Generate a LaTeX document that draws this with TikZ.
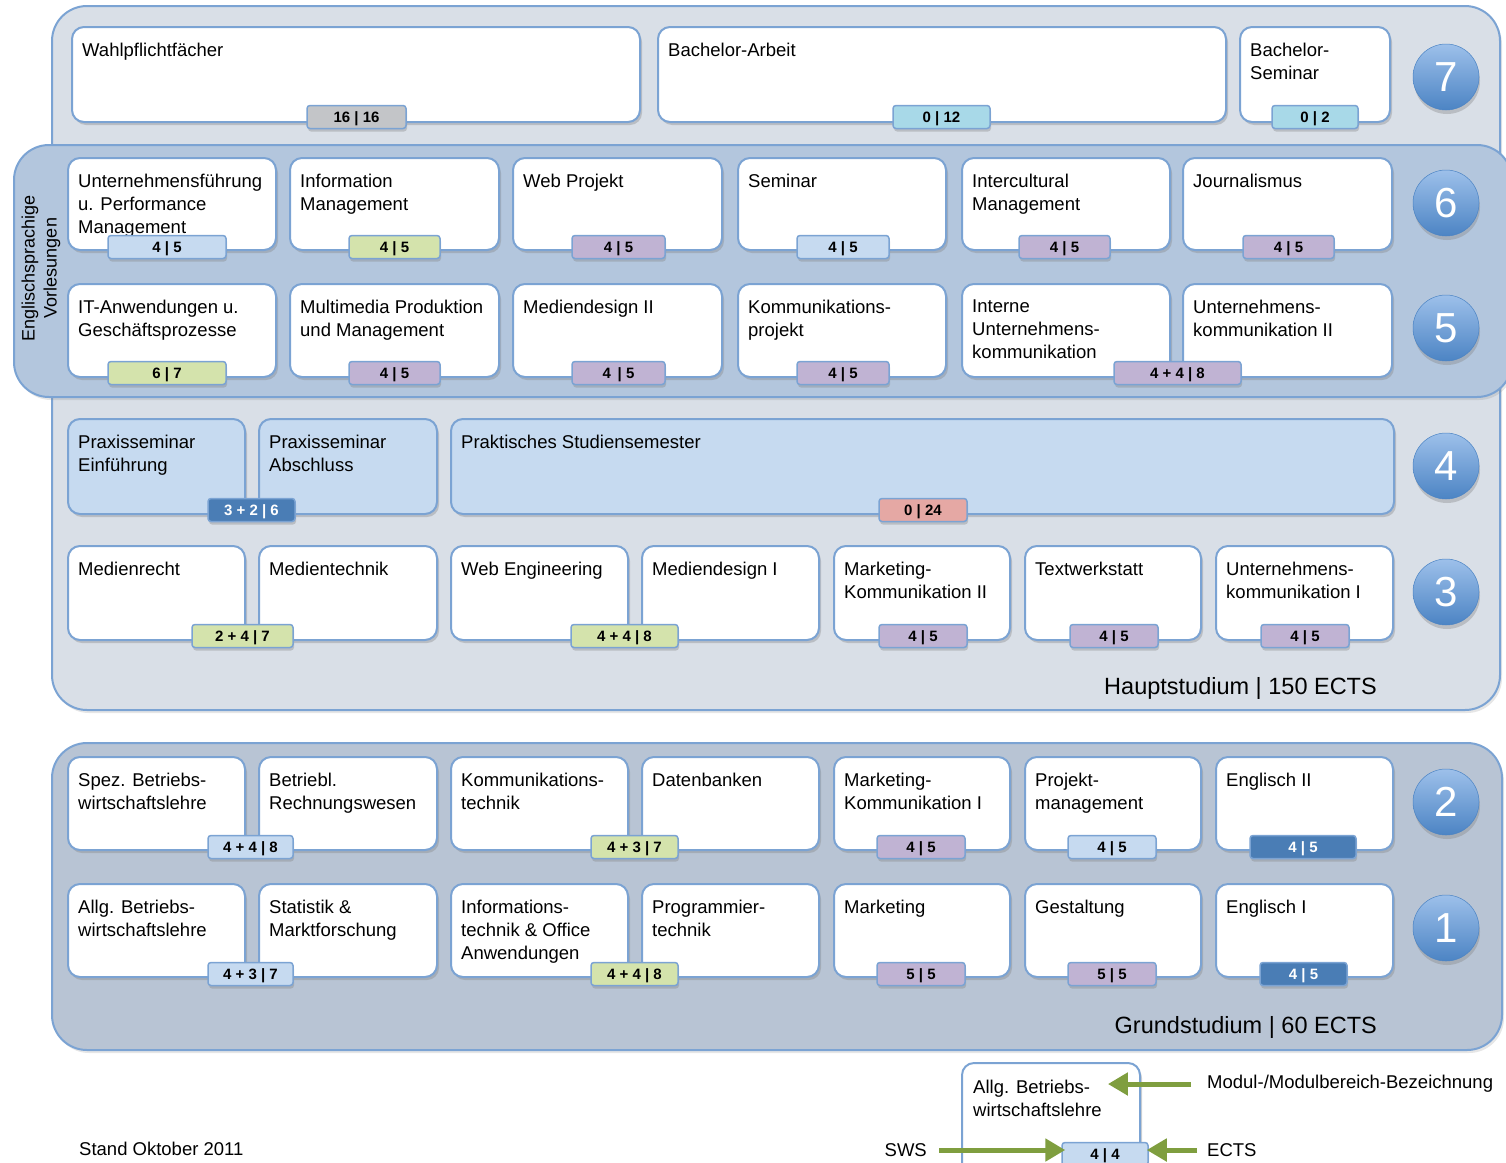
\documentclass[tikz,border=0pt]{standalone}
\usepackage{fontspec}
\setmainfont{Liberation Sans}
\usetikzlibrary{shadows,arrows.meta}

\definecolor{rahmen}{HTML}{7BA3D3}
\definecolor{haupt}{HTML}{D9DFE7}
\definecolor{englisch}{HTML}{B3C6DD}
\definecolor{grund}{HTML}{B8C4D4}
\definecolor{hellblau}{HTML}{C6DAF0}
\definecolor{gruen}{HTML}{D4E3AC}
\definecolor{lila}{HTML}{C0B3D3}
\definecolor{grau}{HTML}{C3C5C8}
\definecolor{tuerkis}{HTML}{A8D9E8}
\definecolor{dunkelblau}{HTML}{4A7DB5}
\definecolor{rosa}{HTML}{E5A8A4}
\definecolor{pfeilgruen}{HTML}{7F9E3F}
\definecolor{kreisoben}{HTML}{9DC0EA}
\definecolor{kreisunten}{HTML}{4C84C4}

\tikzset{
  panel/.style={draw=rahmen, line width=2pt, rounded corners=35pt,
    drop shadow={opacity=0.2, shadow xshift=2pt, shadow yshift=-3pt}},
  modul/.style={draw=rahmen, line width=2pt, fill=white, rounded corners=12pt,
    drop shadow={opacity=0.35, shadow xshift=2pt, shadow yshift=-3pt}},
  titel/.style={anchor=north west, align=left, inner sep=0pt, yshift=-2pt,
    font=\fontsize{18.5}{23}\selectfont},
  badge/.style={draw=rahmen, line width=1.5pt, rounded corners=3pt,
    minimum height=23pt, inner sep=0pt, text depth=0pt,
    font=\bfseries\fontsize{15}{16}\selectfont,
    drop shadow={opacity=0.35, shadow xshift=1pt, shadow yshift=-3pt}},
  semester/.style={circle, minimum size=66pt, inner sep=0pt, top color=kreisoben,
    bottom color=kreisunten, draw=kreisunten, line width=0.5pt, text=white,
    font=\fontsize{42}{42}\selectfont,
    drop shadow={opacity=0.35, shadow xshift=1pt, shadow yshift=-4pt}},
  summe/.style={anchor=east, inner sep=0pt, font=\fontsize{23.5}{26}\selectfont},
  legende/.style={anchor=west, inner sep=0pt, font=\fontsize{18.5}{20}\selectfont},
  hinweis/.style={-{Triangle[width=22pt,length=20pt]}, line width=5pt, draw=pfeilgruen}
}

\begin{document}
\begin{tikzpicture}[x=1pt, y=-1pt]
\useasboundingbox (0,0) rectangle (1506,1162);

% Bereiche
\draw[panel, fill=haupt] (52,6) rectangle (1500,710);
\draw[panel, fill=grund] (52,743) rectangle (1502,1050);
\draw[panel, fill=englisch] (14,145) rectangle (1512,397);
\node[rotate=90, align=center, inner sep=0pt, font=\fontsize{18}{22}\selectfont] (engl) at (41,268) {Englischsprachige\\Vorlesungen};
\node[summe] (haupttext) at (1377,688) {Hauptstudium | 150 ECTS};
\node[summe] (grundtext) at (1377,1027) {Grundstudium | 60 ECTS};

% 7. Semester
\draw[modul] (72,27) rectangle (640,122);
\node[titel] (t71) at (82,41) {Wahlpflichtfächer};
\draw[modul] (658,27) rectangle (1226,122);
\node[titel] (t72) at (668,41) {Bachelor-Arbeit};
\draw[modul] (1240,27) rectangle (1390,122);
\node[titel] (t73) at (1250,41) {Bachelor-\\Seminar};
\node[badge, fill=grau, minimum width=99] (b71) at (356.5,117) {16 | 16};
\node[badge, fill=tuerkis, minimum width=97] (b72) at (941.5,117) {0 | 12};
\node[badge, fill=tuerkis, minimum width=86] (b73) at (1315,117) {0 | 2};
\node[semester] (s7) at (1446,77) {7};

% 6. Semester
\draw[modul] (68,158) rectangle (276,250);
\node[titel] (t61) at (78,172) {Unternehmensführung\\u. Performance\\Management};
\draw[modul] (290,158) rectangle (499,250);
\node[titel] (t62) at (300,172) {Information\\Management};
\draw[modul] (513,158) rectangle (722,250);
\node[titel] (t63) at (523,172) {Web Projekt};
\draw[modul] (738,158) rectangle (946,250);
\node[titel] (t64) at (748,172) {Seminar};
\draw[modul] (962,158) rectangle (1170,250);
\node[titel] (t65) at (972,172) {Intercultural\\Management};
\draw[modul] (1183,158) rectangle (1392,250);
\node[titel] (t66) at (1193,172) {Journalismus};
\node[badge, fill=hellblau, minimum width=118] (b61) at (167,247) {4 | 5};
\node[badge, fill=gruen, minimum width=91] (b62) at (394.5,247) {4 | 5};
\node[badge, fill=lila, minimum width=93] (b63) at (618.5,247) {4 | 5};
\node[badge, fill=hellblau, minimum width=92] (b64) at (843,247) {4 | 5};
\node[badge, fill=lila, minimum width=91] (b65) at (1064.5,247) {4 | 5};
\node[badge, fill=lila, minimum width=91] (b66) at (1288.5,247) {4 | 5};
\node[semester] (s6) at (1446,203) {6};

% 5. Semester
\draw[modul] (68,284) rectangle (276,377);
\node[titel] (t51) at (78,298) {IT-Anwendungen u.\\Geschäftsprozesse};
\draw[modul] (290,284) rectangle (499,377);
\node[titel] (t52) at (300,298) {Multimedia Produktion\\und Management};
\draw[modul] (513,284) rectangle (722,377);
\node[titel] (t53) at (523,298) {Mediendesign II};
\draw[modul] (738,284) rectangle (946,377);
\node[titel] (t54) at (748,298) {Kommunikations-\\projekt};
\draw[modul] (962,284) rectangle (1170,377);
\node[titel] (t55) at (972,298) {Interne\\Unternehmens-\\kommunikation};
\draw[modul] (1183,284) rectangle (1392,377);
\node[titel] (t56) at (1193,298) {Unternehmens-\\kommunikation II};
\node[badge, fill=gruen, minimum width=118] (b51) at (167,373) {6 | 7};
\node[badge, fill=lila, minimum width=91] (b52) at (394.5,373) {4 | 5};
\node[badge, fill=lila, minimum width=93] (b53) at (618.5,373) {4 \,| 5};
\node[badge, fill=lila, minimum width=92] (b54) at (843,373) {4 | 5};
\node[badge, fill=lila, minimum width=127] (b55) at (1177.5,373) {4 + 4 | 8};
\node[semester] (s5) at (1446,328) {5};

% 4. Semester
\draw[modul, fill=hellblau] (68,419) rectangle (245,514);
\node[titel] (t41) at (78,433) {Praxisseminar\\Einführung};
\draw[modul, fill=hellblau] (259,419) rectangle (437,514);
\node[titel] (t42) at (269,433) {Praxisseminar\\Abschluss};
\draw[modul, fill=hellblau] (451,419) rectangle (1394,514);
\node[titel] (t43) at (461,433) {Praktisches Studiensemester};
\node[badge, fill=dunkelblau, text=white, minimum width=87] (b41) at (251.5,510) {3 + 2 | 6};
\node[badge, fill=rosa, minimum width=88] (b42) at (923,510) {0 | 24};
\node[semester] (s4) at (1446,466) {4};

% 3. Semester
\draw[modul] (68,546) rectangle (245,640);
\node[titel] (t31) at (78,560) {Medienrecht};
\draw[modul] (259,546) rectangle (437,640);
\node[titel] (t32) at (269,560) {Medientechnik};
\draw[modul] (451,546) rectangle (628,640);
\node[titel] (t33) at (461,560) {Web Engineering};
\draw[modul] (642,546) rectangle (819,640);
\node[titel] (t34) at (652,560) {Mediendesign I};
\draw[modul] (834,546) rectangle (1010,640);
\node[titel] (t35) at (844,560) {Marketing-\\Kommunikation II};
\draw[modul] (1025,546) rectangle (1201,640);
\node[titel] (t36) at (1035,560) {Textwerkstatt};
\draw[modul] (1216,546) rectangle (1393,640);
\node[titel] (t37) at (1226,560) {Unternehmens-\\kommunikation I};
\node[badge, fill=gruen, minimum width=101] (b31) at (242.5,636) {2 + 4 | 7};
\node[badge, fill=gruen, minimum width=107] (b32) at (624.5,636) {4 + 4 | 8};
\node[badge, fill=lila, minimum width=88] (b33) at (923,636) {4 | 5};
\node[badge, fill=lila, minimum width=88] (b34) at (1114,636) {4 | 5};
\node[badge, fill=lila, minimum width=88] (b35) at (1305,636) {4 | 5};
\node[semester] (s3) at (1446,592) {3};

% 2. Semester
\draw[modul] (68,757) rectangle (245,850);
\node[titel] (t21) at (78,771) {Spez. Betriebs-\\wirtschaftslehre};
\draw[modul] (259,757) rectangle (437,850);
\node[titel] (t22) at (269,771) {Betriebl.\\Rechnungswesen};
\draw[modul] (451,757) rectangle (628,850);
\node[titel] (t23) at (461,771) {Kommunikations-\\technik};
\draw[modul] (642,757) rectangle (819,850);
\node[titel] (t24) at (652,771) {Datenbanken};
\draw[modul] (834,757) rectangle (1010,850);
\node[titel] (t25) at (844,771) {Marketing-\\Kommunikation I};
\draw[modul] (1025,757) rectangle (1201,850);
\node[titel] (t26) at (1035,771) {Projekt-\\management};
\draw[modul] (1216,757) rectangle (1393,850);
\node[titel] (t27) at (1226,771) {Englisch II};
\node[badge, fill=hellblau, minimum width=85] (b21) at (250.5,847) {4 + 4 | 8};
\node[badge, fill=gruen, minimum width=87] (b22) at (634.5,847) {4 + 3 | 7};
\node[badge, fill=lila, minimum width=88] (b23) at (921,847) {4 | 5};
\node[badge, fill=hellblau, minimum width=88] (b24) at (1112,847) {4 | 5};
\node[badge, fill=dunkelblau, text=white, minimum width=106] (b25) at (1303,847) {4 | 5};
\node[semester] (s2) at (1446,802) {2};

% 1. Semester
\draw[modul] (68,884) rectangle (245,977);
\node[titel] (t11) at (78,898) {Allg. Betriebs-\\wirtschaftslehre};
\draw[modul] (259,884) rectangle (437,977);
\node[titel] (t12) at (269,898) {Statistik \&\\Marktforschung};
\draw[modul] (451,884) rectangle (628,977);
\node[titel] (t13) at (461,898) {Informations-\\technik \& Office\\Anwendungen};
\draw[modul] (642,884) rectangle (819,977);
\node[titel] (t14) at (652,898) {Programmier-\\technik};
\draw[modul] (834,884) rectangle (1010,977);
\node[titel] (t15) at (844,898) {Marketing};
\draw[modul] (1025,884) rectangle (1201,977);
\node[titel] (t16) at (1035,898) {Gestaltung};
\draw[modul] (1216,884) rectangle (1393,977);
\node[titel] (t17) at (1226,898) {Englisch I};
\node[badge, fill=hellblau, minimum width=85] (b11) at (250.5,974) {4 + 3 | 7};
\node[badge, fill=gruen, minimum width=87] (b12) at (634.5,974) {4 + 4 | 8};
\node[badge, fill=lila, minimum width=88] (b13) at (921,974) {5 | 5};
\node[badge, fill=lila, minimum width=88] (b14) at (1112,974) {5 | 5};
\node[badge, fill=dunkelblau, text=white, minimum width=87] (b15) at (1303.5,974) {4 | 5};
\node[semester] (s1) at (1446,928) {1};

% Legende
\node[legende] (stand) at (79,1149) {Stand Oktober 2011};
\draw[modul, drop shadow={opacity=0}] (962,1063) rectangle (1140,1190);
\node[titel] (legtitel) at (973,1078) {Allg. Betriebs-\\wirtschaftslehre};
\node[badge, fill=hellblau, minimum width=86] (legbadge) at (1105,1154) {4 | 4};
\node[legende] (legmodul) at (1207,1084) {Modul-/Modulbereich-Bezeichnung};
\node[legende, anchor=east] (legsws) at (927,1150) {SWS};
\node[legende] (legects) at (1207,1150) {ECTS};
\draw[hinweis, shorten <=16pt, shorten >=6pt] (legmodul.west) -- (legmodul.west -| legtitel.east);
\draw[hinweis, shorten <=12pt, shorten >=-4pt] (legsws.east) -- (legsws.east -| legbadge.west);
\draw[hinweis, shorten <=10pt, shorten >=-2pt] (legects.west) -- (legects.west -| legbadge.east);
\end{tikzpicture}
\end{document}
